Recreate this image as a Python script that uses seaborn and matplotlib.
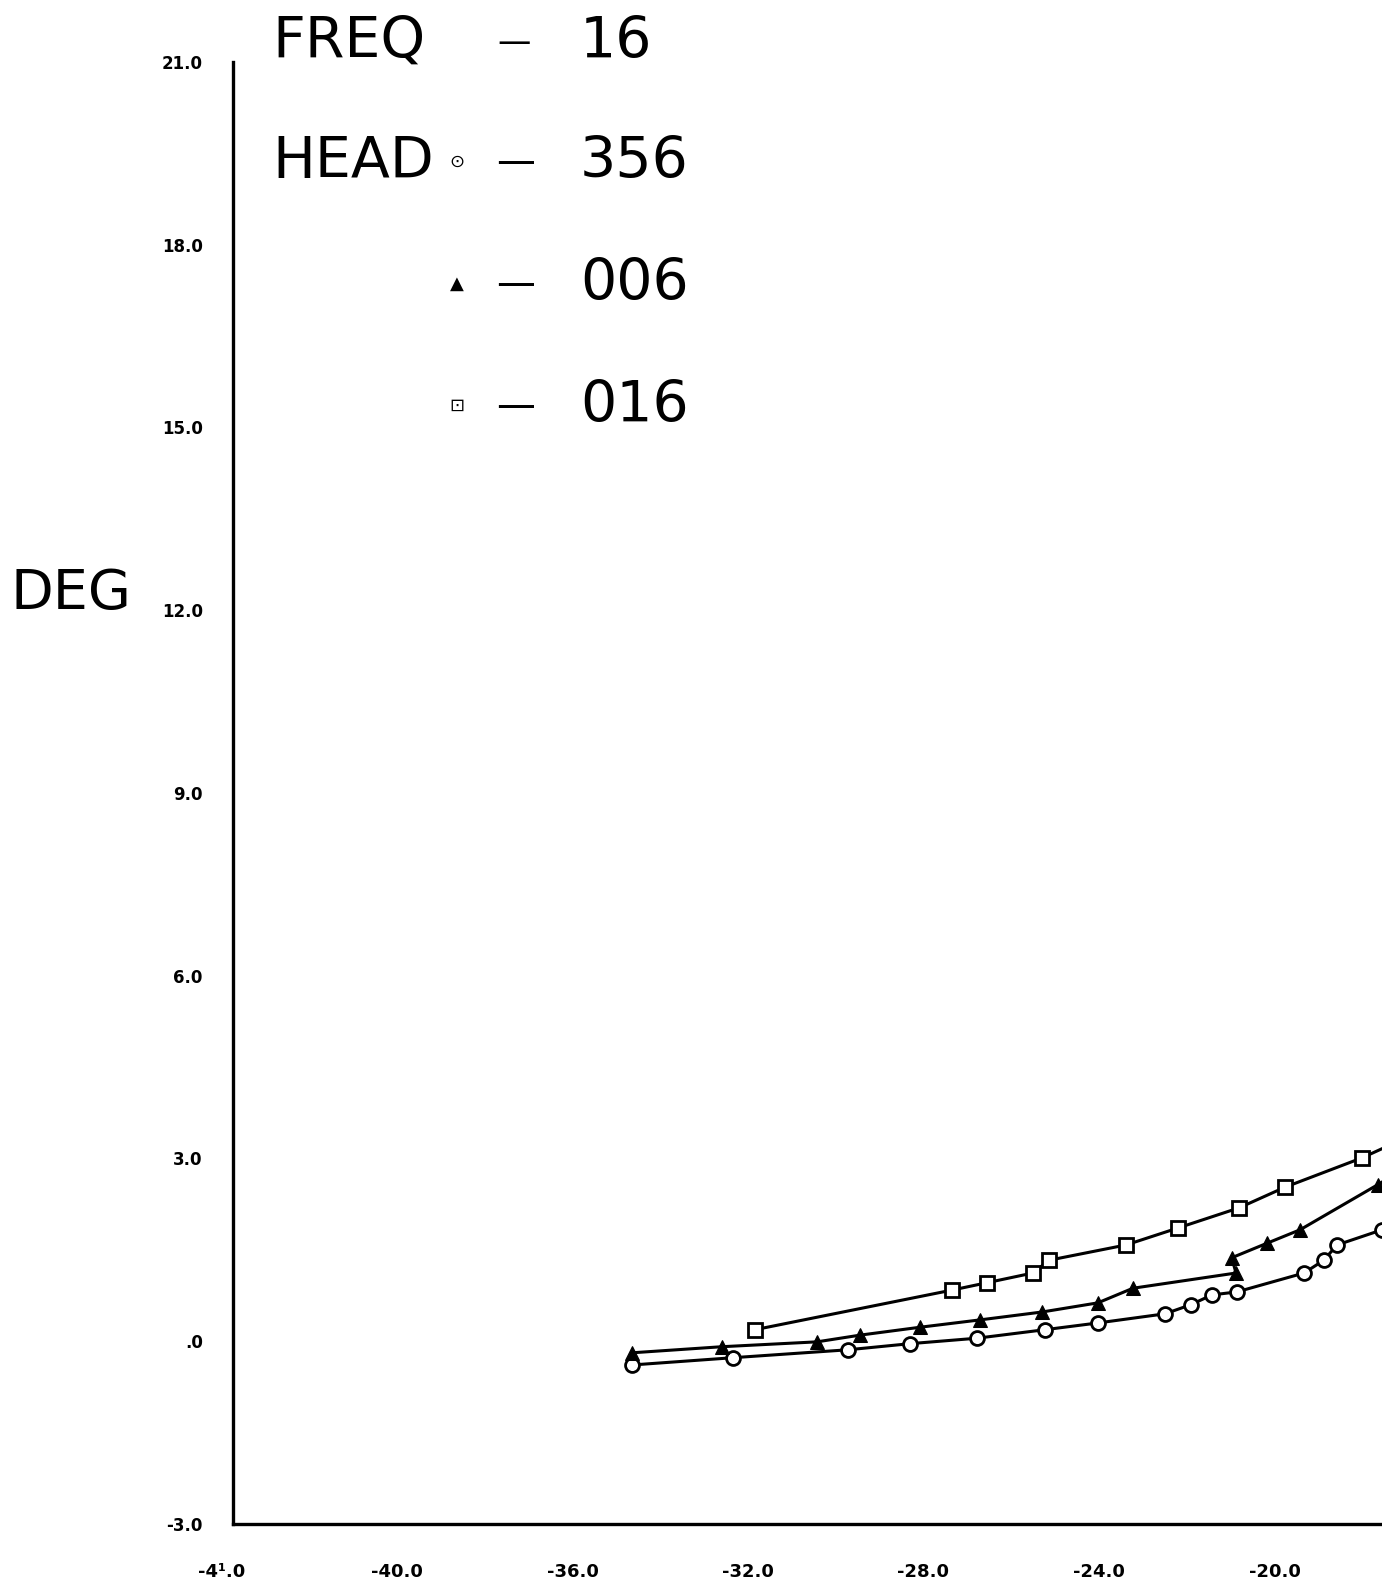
import matplotlib
matplotlib.use("Agg")
import matplotlib.pyplot as plt
import matplotlib.transforms as mtransforms
import seaborn as sns
import pandas as pd

# ---- data ----
x_356 = [-34.92, -32.61, -29.99, -28.58, -27.05, -25.50, -24.30, -22.77, -22.18,
         -21.70, -21.13, -19.60, -19.15, -18.85, -17.82, -17.30]
y_356 = [-0.39, -0.27, -0.14, -0.04, 0.05, 0.19, 0.30, 0.45, 0.60,
         0.76, 0.81, 1.12, 1.33, 1.58, 1.83, 1.95]

x_006 = [-34.92, -32.87, -30.70, -29.72, -28.35, -26.99, -25.57, -24.30, -23.50,
         -21.15, -21.25, -20.44, -19.69, -17.92, -17.40]
y_006 = [-0.19, -0.09, -0.01, 0.10, 0.23, 0.35, 0.48, 0.63, 0.87,
         1.12, 1.37, 1.61, 1.83, 2.57, 2.80]

x_016 = [-32.11, -27.62, -26.83, -25.78, -25.41, -23.66, -22.47, -21.08, -20.03,
         -18.28, -17.40]
y_016 = [0.19, 0.84, 0.96, 1.12, 1.33, 1.58, 1.86, 2.19, 2.53, 3.01, 3.30]

x_ticks = [-44.0, -40.0, -36.0, -32.0, -28.0, -24.0, -20.0]
x_tick_labels = ["-4\u00b9.0", "-40.0", "-36.0", "-32.0", "-28.0", "-24.0", "-20.0"]
y_ticks = [-3.0, 0.0, 3.0, 6.0, 9.0, 12.0, 15.0, 18.0, 21.0]
y_tick_labels = ["-3.0", ".0", "3.0", "6.0", "9.0", "12.0", "15.0", "18.0", "21.0"]

legend_heads = ["356", "006", "016"]
legend_syms = ["\u2299", "\u25B2", "\u22A1"]
freq_value = "16"

# ---- figure ----
sns.set_style("white")
plt.rcParams["font.family"] = ["DejaVu Sans"]
plt.rcParams["text.color"] = "black"
plt.rcParams["xtick.color"] = "black"
plt.rcParams["ytick.color"] = "black"

W, H = 1382, 1591
fig = plt.figure(figsize=(W / 100, H / 100), dpi=100)
ax_left, ax_right = 233.4 / W, 1.0
ax_bottom, ax_top = 1 - 1524 / H, 1 - 61.9 / H
ax = fig.add_axes([ax_left, ax_bottom, ax_right - ax_left, ax_top - ax_bottom])

df356 = pd.DataFrame({"x": x_356, "y": y_356})
df006 = pd.DataFrame({"x": x_006, "y": y_006})
df016 = pd.DataFrame({"x": x_016, "y": y_016})

common = dict(color="black", linewidth=2.2, sort=False, estimator=None, ax=ax)
sns.lineplot(data=df356, x="x", y="y", marker="o", markersize=10,
             markerfacecolor="white", markeredgecolor="black", markeredgewidth=2, **common)
sns.lineplot(data=df006, x="x", y="y", marker="^", markersize=10,
             markerfacecolor="black", markeredgecolor="black", **common)
sns.lineplot(data=df016, x="x", y="y", marker="s", markersize=10,
             markerfacecolor="white", markeredgecolor="black", markeredgewidth=2, **common)

ax.set_xlim(-44.0, -44.0 + (1382 - 233.4) / 43.88)
ax.set_ylim(-3.0, 21.0)

for s in ["top", "right"]:
    ax.spines[s].set_visible(False)
for s in ["left", "bottom"]:
    ax.spines[s].set_color("black")
    ax.spines[s].set_linewidth(2.4)

ax.set_xlabel("")
ax.set_ylabel("")
ax.set_xticks(x_ticks)
ax.set_xticklabels(x_tick_labels, fontsize=13, fontweight="bold")
ax.set_yticks(y_ticks)
ax.set_yticklabels(y_tick_labels, fontsize=12, fontweight="bold")
ax.tick_params(axis="both", length=0)
ax.tick_params(axis="x", pad=28)
ax.tick_params(axis="y", pad=22)

# shift x tick labels so the decimal point sits on the tick
offset = mtransforms.ScaledTranslation(-12 / 100, 0, fig.dpi_scale_trans)
for lab in ax.get_xticklabels():
    lab.set_transform(lab.get_transform() + offset)

# ---- header / legend text ----
def fx(px):
    return px / W

def fy(py):
    return 1 - py / H

big = 41
fig.text(fx(272), fy(42), "FREQ", fontsize=big, va="center", ha="left")
fig.text(fx(497), fy(42), "\u2014", fontsize=24, va="center", ha="left")
fig.text(fx(580), fy(42), freq_value, fontsize=big, va="center", ha="left")

rows_y = [162, 284, 406]
fig.text(fx(272), fy(rows_y[0]), "HEAD", fontsize=big, va="center", ha="left")
for yy, sym, val in zip(rows_y, legend_syms, legend_heads):
    fig.text(fx(457), fy(yy), sym, fontsize=13, va="center", ha="center")
    fig.text(fx(496), fy(yy), "\u2014", fontsize=28, va="center", ha="left")
    fig.text(fx(580), fy(yy), val, fontsize=big, va="center", ha="left")

fig.text(fx(10), fy(594), "DEG", fontsize=40, va="center", ha="left")

fig.savefig("out.png", dpi=100, facecolor="white")
